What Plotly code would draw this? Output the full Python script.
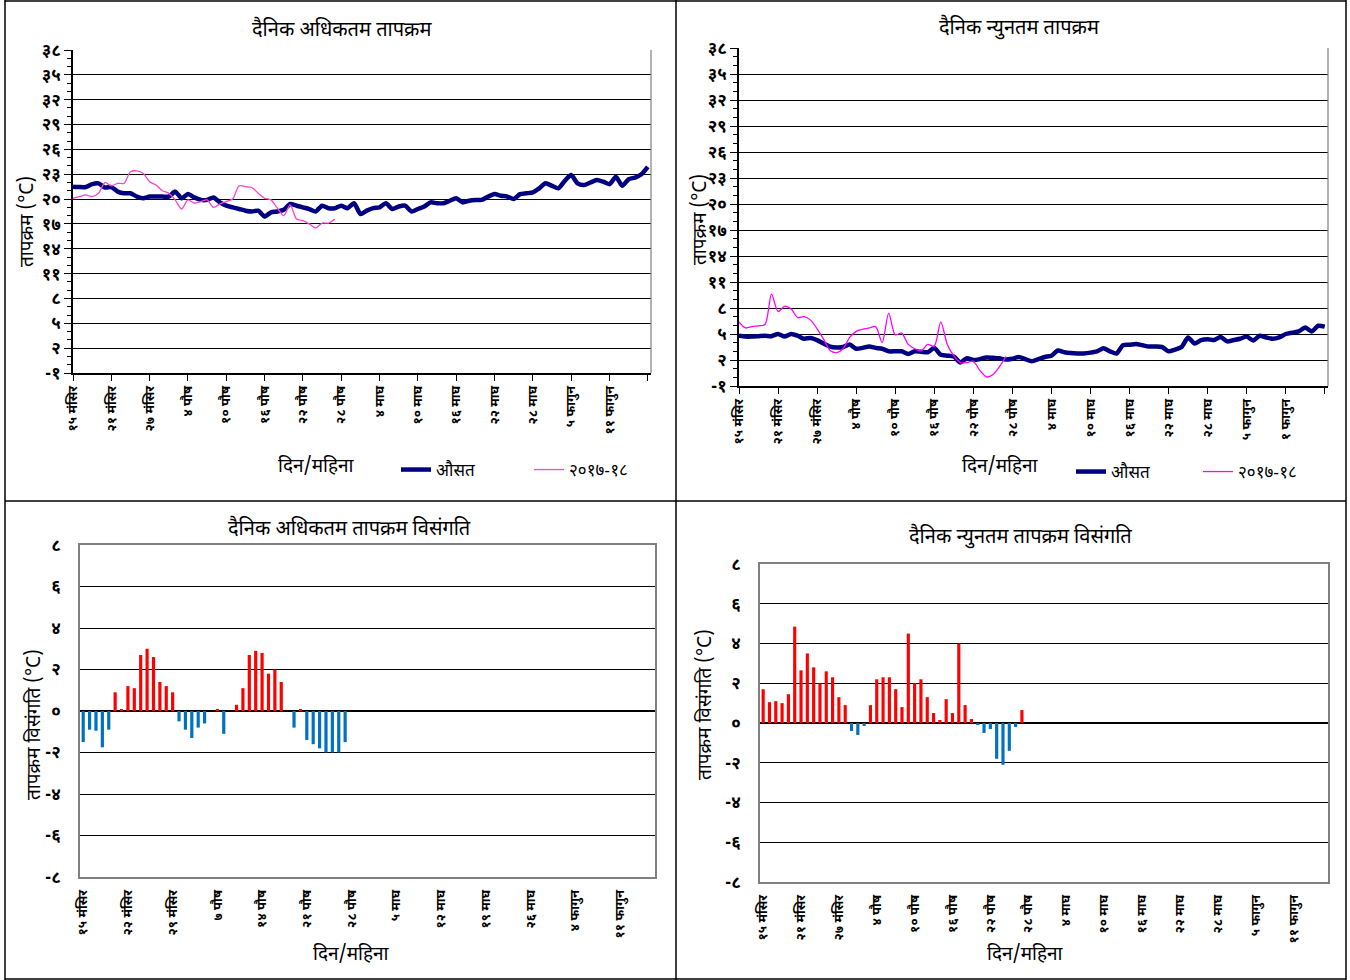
import plotly.graph_objects as go

# ---------------- data ----------------
days_line = list(range(91))
days_obs = list(range(42))

max_avg = [21.5, 21.45, 21.45, 21.8, 21.9, 21.4, 21.45, 20.9, 20.7, 20.7,
           20.3, 20.1, 20.3, 20.3, 20.3, 20.3, 20.9, 20.1, 20.6, 20.2,
           19.9, 19.9, 20.2, 19.6, 19.2, 19.0, 18.8, 18.6, 18.5, 18.6,
           17.9, 18.4, 18.5, 18.7, 19.4, 19.2, 19.0, 18.8, 18.5, 19.2,
           18.9, 18.9, 19.2, 18.9, 19.5, 18.2, 18.6, 18.9, 19.0, 19.5,
           18.8, 19.1, 19.2, 18.5, 18.8, 19.1, 19.6, 19.5, 19.5, 19.8,
           20.1, 19.6, 19.8, 19.9, 19.9, 20.3, 20.6, 20.4, 20.3, 20.0,
           20.6, 20.7, 20.8, 21.3, 21.9, 21.6, 21.3, 22.2, 22.9, 21.9,
           21.7, 22.0, 22.3, 22.1, 21.8, 22.7, 21.6, 22.4, 22.6, 23.0, 23.9]

max_1718 = [20.1, 20.3, 20.5, 20.3, 20.7, 22.0, 21.6, 21.9, 21.9, 23.3,
            23.4, 23.1, 22.1, 21.7, 21.0, 20.7, 19.9, 18.8, 19.9, 19.5,
            19.7, 19.9, 19.0, 19.4, 19.7, 20.0, 21.6, 21.5, 21.4, 20.7,
            20.1, 19.9, 18.9, 18.0, 19.3, 17.6, 17.4, 17.0, 16.5, 17.1,
            17.1, 17.6]

min_avg = [4.8, 4.7, 4.7, 4.75, 4.8, 4.75, 5.0, 4.7, 5.0, 4.8,
           4.45, 4.55, 4.3, 3.9, 3.55, 3.45, 3.5, 3.8, 3.3, 3.4,
           3.55, 3.4, 3.3, 3.0, 3.0, 3.0, 2.7, 3.0, 2.95, 2.9,
           3.4, 2.6, 2.5, 2.4, 1.7, 2.2, 2.0, 2.1, 2.3, 2.25,
           2.2, 2.05, 2.15, 2.35, 2.1, 1.85, 2.1, 2.35, 2.5, 3.1,
           2.9, 2.8, 2.75, 2.75, 2.85, 3.0, 3.35, 3.0, 2.75, 3.7,
           3.75, 3.85, 3.7, 3.55, 3.55, 3.5, 3.0, 3.2, 3.5, 4.6,
           3.9, 4.3, 4.4, 4.3, 4.65, 4.15, 4.3, 4.45, 4.7, 4.25,
           4.8, 4.6, 4.45, 4.6, 5.0, 5.15, 5.3, 5.75, 5.3, 5.95, 5.85]

min_1718 = [6.4, 5.7, 5.85, 5.95, 6.1, 9.6, 7.6, 8.2, 7.9, 6.9,
            7.0, 6.6, 5.6, 4.4, 3.1, 2.85, 3.3, 4.6, 5.3, 5.55,
            5.7, 5.85, 4.0, 7.4, 4.9, 5.1, 3.8, 3.3, 3.05, 3.8,
            3.6, 6.4, 3.8, 2.5, 1.7, 1.7, 1.85, 0.8, 0.05, 0.3,
            1.2, 2.4]

max_anom = [-1.5, -0.9, -0.95, -1.75, -0.9, 0.9, 0.05, 1.2, 1.1, 2.7,
            3.0, 2.6, 1.4, 1.2, 0.9, -0.5, -0.9, -1.3, -0.8, -0.6,
            0.0, 0.1, -1.1, 0.0, 0.3, 1.1, 2.7, 2.9, 2.8, 1.8,
            2.0, 1.4, 0.0, -0.8, 0.1, -1.4, -1.6, -1.8, -2.0, -2.0,
            -2.0, -1.5]

min_anom = [1.7, 1.05, 1.1, 1.0, 1.45, 4.85, 2.65, 3.5, 2.8, 2.0,
            2.6, 2.3, 1.3, 0.9, -0.4, -0.6, -0.15, 0.9, 2.2, 2.3,
            2.3, 1.7, 0.8, 4.5, 2.0, 2.2, 1.3, 0.5, 0.15, 1.2,
            0.5, 4.0, 0.9, 0.2, -0.1, -0.5, -0.3, -1.8, -2.1, -1.4,
            -0.2, 0.65]

temp_ticks = [-1, 2, 5, 8, 11, 14, 17, 20, 23, 26, 29, 32, 35, 38]
temp_ticktext = ["-१", "२", "५", "८", "११", "१४", "१७", "२०", "२३", "२६", "२९", "३२", "३५", "३८"]
anom_ticks = [-8, -6, -4, -2, 0, 2, 4, 6, 8]
anom_ticktext = ["-८", "-६", "-४", "-२", "०", "२", "४", "६", "८"]

x6_ticks = [0, 6, 12, 18, 24, 30, 36, 42, 48, 54, 60, 66, 72, 78, 84, 90]
x6_text_a = ["१५ मंसिर", "२१ मंसिर", "२७ मंसिर", "४ पौष", "१० पौष", "१६ पौष", "२२ पौष", "२८ पौष",
             "४ माघ", "१० माघ", "१६ माघ", "२२ माघ", "२८ माघ", "५ फागुन", "११ फागुन", ""]
x6_text_b = ["१५ मंसिर", "२१ मंसिर", "२७ मंसिर", "४ पौष", "१० पौष", "१६ पौष", "२२ पौष", "२८ पौष",
             "४ माघ", "१० माघ", "१६ माघ", "२२ माघ", "२८ माघ", "५ फागुन", "१ फागुन", ""]
x7_ticks = [0, 7, 14, 21, 28, 35, 42, 49, 56, 63, 70, 77, 84]
x7_text = ["१५ मंसिर", "२२ मंसिर", "२९ मंसिर", "७ पौष", "१४ पौष", "२१ पौष", "२८ पौष",
           "५ माघ", "१२ माघ", "१९ माघ", "२६ माघ", "४ फागुन", "११ फागुन"]

titles = ["दैनिक अधिकतम तापक्रम", "दैनिक न्युनतम तापक्रम",
          "दैनिक अधिकतम तापक्रम विसंगति", "दैनिक न्युनतम तापक्रम विसंगति"]
series_names = ["औसत", "२०१७-१८"]
xlabel = "दिन/महिना"
ylabel_t = "तापक्रम (°C)"
ylabel_a = "तापक्रम विसंगति (°C)"

# ---------------- layout helpers ----------------
W, H = 1350, 980
FONT = "Noto Sans Devanagari, Noto Sans, Lohit Devanagari, sans-serif"
NAVY = "#000080"
RED = "#FF0000"
BLUE = "#0070C0"


def px(x):
    return x / W


def py(y):
    return 1 - y / H


fig = go.Figure()

fig.add_trace(go.Scatter(x=days_line, y=max_avg, mode="lines", name=series_names[0],
                         line=dict(color=NAVY, width=4.5, shape="spline", smoothing=0.6),
                         xaxis="x", yaxis="y", legend="legend"))
fig.add_trace(go.Scatter(x=days_obs, y=max_1718, mode="lines", name=series_names[1],
                         line=dict(color="#FF44CC", width=1.3, shape="spline", smoothing=0.8),
                         xaxis="x", yaxis="y", legend="legend"))
fig.add_trace(go.Scatter(x=days_line, y=min_avg, mode="lines", name=series_names[0],
                         line=dict(color=NAVY, width=4.5, shape="spline", smoothing=0.6),
                         xaxis="x2", yaxis="y2", legend="legend2"))
fig.add_trace(go.Scatter(x=days_obs, y=min_1718, mode="lines", name=series_names[1],
                         line=dict(color="#FF00FF", width=1.3, shape="spline", smoothing=0.8),
                         xaxis="x2", yaxis="y2", legend="legend2"))
fig.add_trace(go.Bar(x=days_obs, y=max_anom, width=0.5, showlegend=False,
                     marker=dict(color=[RED if v >= 0 else BLUE for v in max_anom], line=dict(width=0)),
                     xaxis="x3", yaxis="y3"))
fig.add_trace(go.Bar(x=days_obs, y=min_anom, width=0.5, showlegend=False,
                     marker=dict(color=[RED if v >= 0 else BLUE for v in min_anom], line=dict(width=0)),
                     xaxis="x4", yaxis="y4"))

panels = {
    1: dict(x0=73, x1=651, y0=50, y1=373),
    2: dict(x0=739, x1=1328, y0=48, y1=386),
    3: dict(x0=80, x1=655, y0=545, y1=877),
    4: dict(x0=760, x1=1328, y0=564, y1=882),
}

tickfont_x = dict(family=FONT, size=13, color="black", weight="bold")
tickfont_y = dict(family=FONT, size=17, color="black", weight="bold")

layout = dict(
    width=W, height=H, margin=dict(l=0, r=0, t=0, b=0, autoexpand=False),
    paper_bgcolor="white", plot_bgcolor="white", bargap=0.5,
    font=dict(family=FONT, color="black"),
)

for k, p in panels.items():
    xs = "" if k == 1 else str(k)
    xdom = [px(p["x0"]), px(p["x1"])]
    ydom = [py(p["y1"]), py(p["y0"])]
    if k in (1, 2):
        xa = dict(domain=xdom, anchor="y" + xs, range=[0, 90.5], tickmode="array",
                  tickvals=x6_ticks, ticktext=x6_text_a if k == 1 else x6_text_b,
                  tickangle=-90, tickfont=tickfont_x, ticks="outside", ticklen=6,
                  tickcolor="black", showline=True, linecolor="black", linewidth=1.5,
                  showgrid=False, zeroline=False, fixedrange=True, automargin=False)
        ya = dict(domain=ydom, anchor="x" + xs, range=[-1, 38], tickmode="array",
                  tickvals=temp_ticks, ticktext=temp_ticktext, tickfont=tickfont_y,
                  ticks="outside", ticklen=7, tickcolor="black",
                  minor=dict(tickvals=list(range(-1, 39)), ticks="outside", ticklen=4, tickcolor="black"),
                  showline=True, linecolor="black", linewidth=1.5,
                  showgrid=True, gridcolor="black", gridwidth=1, zeroline=False, fixedrange=True,
                  automargin=False)
    else:
        xa = dict(domain=xdom, anchor="y" + xs, range=[-0.5, 89.5], tickmode="array",
                  tickvals=x7_ticks if k == 3 else x6_ticks[:-1],
                  ticktext=x7_text if k == 3 else x6_text_a[:-1],
                  tickangle=-90, tickfont=tickfont_x, ticks="", ticklabelstandoff=6,
                  showline=True, linecolor="#808080", linewidth=1.5, mirror=True,
                  showgrid=False, zeroline=False, fixedrange=True, automargin=False)
        ya = dict(domain=ydom, anchor="x" + xs, range=[-8, 8], tickmode="array",
                  tickvals=anom_ticks, ticktext=anom_ticktext, tickfont=tickfont_y,
                  ticks="", ticklabelstandoff=14,
                  showline=True, linecolor="#808080", linewidth=1.5, mirror=True,
                  showgrid=True, gridcolor="black", gridwidth=1,
                  zeroline=True, zerolinecolor="black", zerolinewidth=1.5, fixedrange=True,
                  automargin=False)
    layout["xaxis" + xs] = xa
    layout["yaxis" + xs] = ya

layout["legend"] = dict(orientation="h", x=px(396), y=py(452), xanchor="left", yanchor="top",
                        font=dict(family=FONT, size=17, color="black"), entrywidth=88,
                        bgcolor="rgba(0,0,0,0)")
layout["legend2"] = dict(orientation="h", x=px(1071), y=py(454), xanchor="left", yanchor="top",
                         font=dict(family=FONT, size=17, color="black"), entrywidth=82,
                         bgcolor="rgba(0,0,0,0)")

fig.update_layout(**layout)

shapes = []
for k in (1, 2):
    p = panels[k]
    shapes.append(dict(type="line", xref="paper", yref="paper", x0=px(p["x1"]), x1=px(p["x1"]),
                       y0=py(p["y1"]), y1=py(p["y0"]), line=dict(color="#808080", width=1.2)))
for (x0, y0, x1, y1) in [(5, 0, 5, 980), (676, 0, 676, 980), (1346, 0, 1346, 980),
                         (5, 501, 1346, 501), (5, 1, 1346, 1), (5, 979, 1346, 979)]:
    shapes.append(dict(type="line", xref="paper", yref="paper", x0=px(x0), x1=px(x1),
                       y0=py(y0), y1=py(y1), line=dict(color="black", width=1.5)))
fig.update_layout(shapes=shapes)

ann = []
title_pos = [(342, 30), (1019, 28), (349, 529), (1021, 537)]
for t, (x, y) in zip(titles, title_pos):
    ann.append(dict(text=t, x=px(x), y=py(y), xref="paper", yref="paper", showarrow=False,
                    xanchor="center", yanchor="middle",
                    font=dict(family=FONT, size=20, color="black")))
for (x, y) in [(316, 467), (1000, 467), (351, 955), (1025, 955)]:
    ann.append(dict(text=xlabel, x=px(x), y=py(y), xref="paper", yref="paper", showarrow=False,
                    xanchor="center", yanchor="middle",
                    font=dict(family=FONT, size=19, color="black")))
for (x, y, t) in [(28, 222, ylabel_t), (701, 220, ylabel_t), (35, 725, ylabel_a), (706, 705, ylabel_a)]:
    ann.append(dict(text=t, x=px(x), y=py(y), xref="paper", yref="paper", showarrow=False,
                    xanchor="center", yanchor="middle", textangle=-90,
                    font=dict(family=FONT, size=19, color="black")))
fig.update_layout(annotations=ann)

fig.write_html("out.html", config={"displayModeBar": False},
               post_script="document.body.style.margin='0';document.body.style.padding='0';")
